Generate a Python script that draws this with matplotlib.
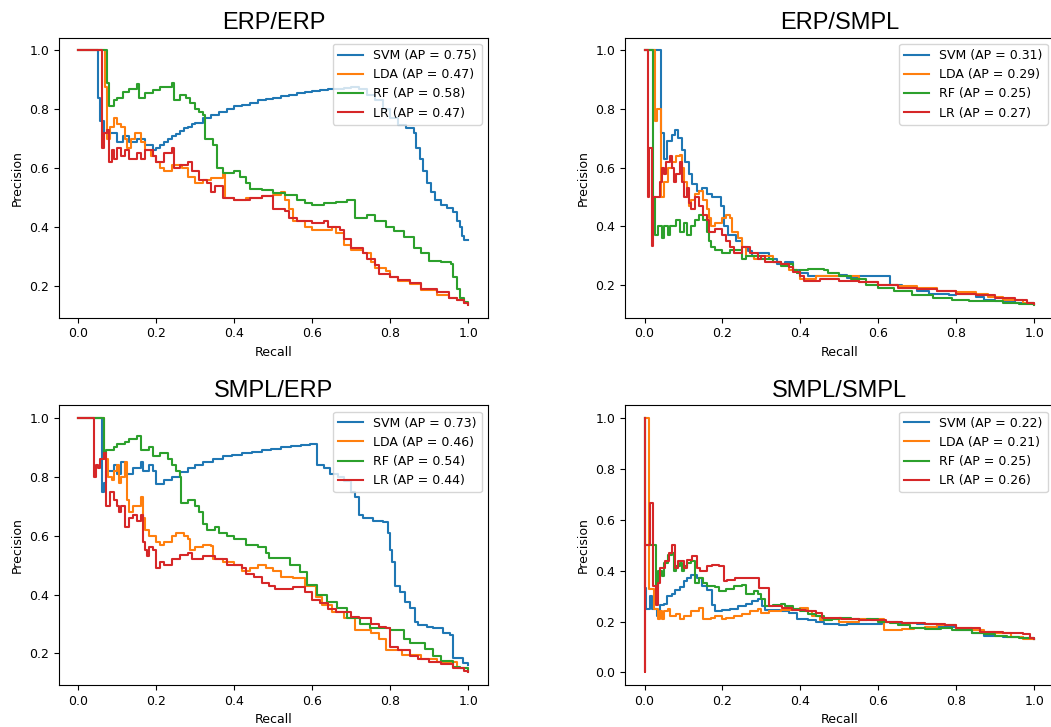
import matplotlib
matplotlib.use("Agg")
import matplotlib.pyplot as plt

# (recall, precision) breakpoints, recall increasing,
# each precision holds until the next recall (steps-post)

# ---- ERP/ERP ----
erp_erp_svm = [(0.0, 1.0), (0.05, 0.84), (0.055, 0.76), (0.065, 0.72), (0.10, 0.69), (0.115, 0.71),
               (0.13, 0.69), (0.15, 0.70), (0.17, 0.68), (0.19, 0.66), (0.20, 0.67), (0.21, 0.68),
               (0.22, 0.69), (0.23, 0.70), (0.24, 0.71), (0.25, 0.715), (0.26, 0.725), (0.27, 0.735),
               (0.28, 0.74), (0.29, 0.75), (0.30, 0.755), (0.32, 0.77), (0.34, 0.78), (0.36, 0.79),
               (0.38, 0.80), (0.40, 0.81), (0.42, 0.815), (0.44, 0.82), (0.46, 0.83), (0.48, 0.835),
               (0.50, 0.84), (0.52, 0.845), (0.54, 0.85), (0.56, 0.855), (0.58, 0.86), (0.60, 0.862),
               (0.62, 0.865), (0.64, 0.868), (0.66, 0.87), (0.68, 0.872), (0.70, 0.875), (0.72, 0.87),
               (0.74, 0.85), (0.76, 0.83), (0.78, 0.80), (0.80, 0.77), (0.82, 0.745), (0.84, 0.735),
               (0.86, 0.72), (0.865, 0.67), (0.875, 0.63), (0.885, 0.59), (0.895, 0.55), (0.905, 0.52),
               (0.915, 0.49), (0.93, 0.475), (0.945, 0.465), (0.96, 0.45), (0.97, 0.42), (0.98, 0.40),
               (0.985, 0.37), (0.99, 0.355), (1.0, 0.354)]
erp_erp_lda = [(0.0, 1.0), (0.068, 0.875), (0.074, 0.70), (0.08, 0.74), (0.09, 0.77), (0.10, 0.75),
               (0.11, 0.74), (0.12, 0.70), (0.125, 0.67), (0.135, 0.70), (0.145, 0.72), (0.16, 0.69),
               (0.17, 0.66), (0.185, 0.64), (0.20, 0.62), (0.21, 0.60), (0.22, 0.59), (0.24, 0.61),
               (0.265, 0.60), (0.28, 0.57), (0.30, 0.55), (0.32, 0.56), (0.34, 0.565), (0.37, 0.58),
               (0.375, 0.50), (0.40, 0.49), (0.43, 0.50), (0.47, 0.505), (0.50, 0.51), (0.52, 0.52),
               (0.53, 0.49), (0.54, 0.46), (0.55, 0.42), (0.58, 0.40), (0.60, 0.39), (0.65, 0.40),
               (0.66, 0.38), (0.68, 0.34), (0.70, 0.32), (0.73, 0.31), (0.75, 0.28), (0.76, 0.26),
               (0.79, 0.25), (0.80, 0.23), (0.82, 0.215), (0.85, 0.205), (0.88, 0.185), (0.92, 0.17),
               (0.95, 0.16), (0.97, 0.15), (0.99, 0.14), (1.0, 0.137)]
erp_erp_rf = [(0.0, 1.0), (0.072, 0.89), (0.078, 0.81), (0.09, 0.83), (0.10, 0.84), (0.115, 0.86),
              (0.13, 0.87), (0.15, 0.885), (0.155, 0.84), (0.17, 0.855), (0.19, 0.865), (0.21, 0.875),
              (0.24, 0.89), (0.245, 0.83), (0.26, 0.85), (0.275, 0.84), (0.285, 0.82), (0.30, 0.80),
              (0.31, 0.79), (0.32, 0.78), (0.325, 0.70), (0.345, 0.68), (0.355, 0.60), (0.37, 0.585),
              (0.40, 0.59), (0.415, 0.57), (0.43, 0.55), (0.44, 0.53), (0.47, 0.525), (0.50, 0.515),
              (0.53, 0.51), (0.56, 0.49), (0.58, 0.48), (0.60, 0.475), (0.63, 0.48), (0.66, 0.485),
              (0.69, 0.49), (0.71, 0.43), (0.74, 0.44), (0.76, 0.42), (0.79, 0.40), (0.81, 0.385),
              (0.835, 0.365), (0.86, 0.33), (0.88, 0.31), (0.90, 0.285), (0.93, 0.28), (0.955, 0.275),
              (0.962, 0.23), (0.97, 0.19), (0.98, 0.16), (0.99, 0.145), (1.0, 0.14)]
erp_erp_lr = [(0.0, 1.0), (0.06, 0.67), (0.065, 0.72), (0.072, 0.73), (0.078, 0.62), (0.085, 0.66),
              (0.09, 0.63), (0.10, 0.67), (0.11, 0.64), (0.12, 0.66), (0.13, 0.63), (0.15, 0.65),
              (0.16, 0.63), (0.17, 0.66), (0.19, 0.64), (0.20, 0.62), (0.22, 0.65), (0.24, 0.67),
              (0.245, 0.60), (0.26, 0.61), (0.28, 0.62), (0.29, 0.59), (0.31, 0.56), (0.33, 0.55),
              (0.34, 0.52), (0.35, 0.54), (0.37, 0.50), (0.40, 0.49), (0.44, 0.50), (0.47, 0.505),
              (0.50, 0.46), (0.53, 0.455), (0.54, 0.43), (0.56, 0.42), (0.60, 0.415), (0.63, 0.42),
              (0.64, 0.40), (0.67, 0.39), (0.68, 0.36), (0.70, 0.33), (0.73, 0.31), (0.74, 0.29),
              (0.76, 0.27), (0.77, 0.24), (0.80, 0.23), (0.82, 0.22), (0.85, 0.21), (0.88, 0.19),
              (0.92, 0.18), (0.95, 0.16), (0.97, 0.15), (0.99, 0.14), (1.0, 0.135)]

# ---- ERP/SMPL ----
erp_smpl_svm = [(0.0, 1.0), (0.043, 0.72), (0.051, 0.63), (0.057, 0.69), (0.070, 0.71), (0.079, 0.73),
                (0.087, 0.70), (0.096, 0.66), (0.103, 0.62), (0.113, 0.58), (0.122, 0.545), (0.135, 0.52),
                (0.147, 0.53), (0.160, 0.51), (0.173, 0.50), (0.195, 0.47), (0.205, 0.40), (0.215, 0.37),
                (0.235, 0.35), (0.25, 0.33), (0.265, 0.315), (0.275, 0.30), (0.29, 0.31), (0.32, 0.29),
                (0.34, 0.27), (0.36, 0.28), (0.38, 0.25), (0.40, 0.24), (0.42, 0.23), (0.50, 0.235),
                (0.52, 0.225), (0.55, 0.23), (0.63, 0.20), (0.66, 0.19), (0.70, 0.18), (0.73, 0.17),
                (0.78, 0.165), (0.80, 0.17), (0.85, 0.16), (0.87, 0.15), (0.90, 0.145), (0.95, 0.14),
                (1.0, 0.135)]
erp_smpl_lda = [(0.0, 1.0), (0.026, 0.76), (0.032, 0.80), (0.043, 0.50), (0.05, 0.55), (0.06, 0.60),
                (0.07, 0.62), (0.08, 0.64), (0.09, 0.645), (0.095, 0.60), (0.10, 0.55), (0.11, 0.50),
                (0.115, 0.47), (0.12, 0.49), (0.13, 0.51), (0.14, 0.52), (0.15, 0.49), (0.16, 0.46),
                (0.165, 0.43), (0.17, 0.40), (0.18, 0.41), (0.20, 0.43), (0.21, 0.44), (0.22, 0.43),
                (0.225, 0.38), (0.24, 0.36), (0.25, 0.33), (0.26, 0.30), (0.28, 0.29), (0.30, 0.30),
                (0.33, 0.28), (0.35, 0.27), (0.37, 0.25), (0.39, 0.24), (0.40, 0.22), (0.44, 0.23),
                (0.50, 0.23), (0.55, 0.21), (0.60, 0.20), (0.65, 0.195), (0.70, 0.19), (0.75, 0.18),
                (0.80, 0.175), (0.85, 0.17), (0.88, 0.16), (0.92, 0.15), (0.97, 0.14), (1.0, 0.135)]
erp_smpl_rf = [(0.0, 1.0), (0.021, 0.5), (0.026, 0.37), (0.035, 0.40), (0.045, 0.36), (0.05, 0.40),
               (0.06, 0.37), (0.065, 0.40), (0.08, 0.42), (0.09, 0.38), (0.10, 0.41), (0.11, 0.37),
               (0.12, 0.40), (0.13, 0.42), (0.14, 0.44), (0.15, 0.42), (0.16, 0.38), (0.165, 0.35),
               (0.17, 0.33), (0.18, 0.32), (0.20, 0.31), (0.22, 0.32), (0.24, 0.32), (0.25, 0.29),
               (0.26, 0.30), (0.30, 0.29), (0.33, 0.28), (0.35, 0.265), (0.37, 0.27), (0.38, 0.25),
               (0.39, 0.24), (0.40, 0.25), (0.42, 0.255), (0.46, 0.25), (0.47, 0.24), (0.50, 0.23),
               (0.53, 0.22), (0.567, 0.20), (0.60, 0.19), (0.64, 0.18), (0.687, 0.165), (0.739, 0.155),
               (0.79, 0.15), (0.833, 0.144), (0.919, 0.139), (0.96, 0.135), (1.0, 0.132)]
erp_smpl_lr = [(0.0, 1.0), (0.010, 0.5), (0.012, 0.667), (0.019, 0.333), (0.022, 0.5), (0.04, 0.55),
               (0.045, 0.60), (0.05, 0.58), (0.055, 0.62), (0.065, 0.64), (0.07, 0.60), (0.075, 0.55),
               (0.08, 0.58), (0.09, 0.62), (0.095, 0.55), (0.10, 0.50), (0.11, 0.53), (0.115, 0.48),
               (0.12, 0.46), (0.13, 0.50), (0.14, 0.47), (0.15, 0.44), (0.16, 0.42), (0.165, 0.38),
               (0.18, 0.39), (0.20, 0.37), (0.21, 0.35), (0.22, 0.33), (0.23, 0.31), (0.25, 0.33),
               (0.27, 0.31), (0.29, 0.29), (0.30, 0.30), (0.31, 0.28), (0.35, 0.27), (0.37, 0.26),
               (0.38, 0.245), (0.40, 0.23), (0.41, 0.215), (0.45, 0.22), (0.50, 0.215), (0.55, 0.21),
               (0.60, 0.20), (0.65, 0.19), (0.70, 0.185), (0.75, 0.18), (0.80, 0.17), (0.85, 0.165),
               (0.90, 0.155), (0.95, 0.15), (0.98, 0.14), (1.0, 0.135)]

# ---- SMPL/ERP ----
smpl_erp_svm = [(0.0, 1.0), (0.061, 0.75), (0.065, 0.78), (0.07, 0.82), (0.09, 0.84), (0.10, 0.81),
                (0.11, 0.85), (0.12, 0.81), (0.14, 0.83), (0.16, 0.85), (0.165, 0.82), (0.18, 0.84),
                (0.19, 0.82), (0.20, 0.775), (0.22, 0.79), (0.24, 0.80), (0.26, 0.815), (0.28, 0.83),
                (0.30, 0.84), (0.32, 0.85), (0.345, 0.86), (0.37, 0.87), (0.395, 0.875), (0.42, 0.88),
                (0.445, 0.885), (0.47, 0.89), (0.495, 0.895), (0.52, 0.90), (0.545, 0.905), (0.57, 0.908),
                (0.595, 0.912), (0.612, 0.84), (0.63, 0.83), (0.645, 0.81), (0.665, 0.80), (0.68, 0.785),
                (0.70, 0.75), (0.71, 0.73), (0.719, 0.67), (0.73, 0.66), (0.755, 0.65), (0.78, 0.645),
                (0.795, 0.61), (0.80, 0.55), (0.804, 0.51), (0.812, 0.43), (0.825, 0.41), (0.838, 0.376),
                (0.85, 0.353), (0.863, 0.308), (0.872, 0.296), (0.893, 0.29), (0.91, 0.285),
                (0.936, 0.268), (0.953, 0.262), (0.962, 0.183), (0.987, 0.166), (1.0, 0.16)]
smpl_erp_lda = [(0.0, 1.0), (0.065, 0.86), (0.075, 0.80), (0.085, 0.79), (0.09, 0.82), (0.10, 0.84),
                (0.105, 0.78), (0.11, 0.80), (0.12, 0.85), (0.125, 0.72), (0.13, 0.68), (0.14, 0.70),
                (0.16, 0.73), (0.165, 0.66), (0.17, 0.62), (0.18, 0.60), (0.20, 0.58), (0.21, 0.57),
                (0.22, 0.58), (0.24, 0.60), (0.25, 0.61), (0.27, 0.60), (0.28, 0.59), (0.285, 0.55),
                (0.30, 0.56), (0.32, 0.57), (0.34, 0.565), (0.345, 0.52), (0.37, 0.51), (0.40, 0.50),
                (0.42, 0.48), (0.44, 0.49), (0.46, 0.50), (0.48, 0.49), (0.50, 0.48), (0.52, 0.46),
                (0.55, 0.455), (0.58, 0.43), (0.61, 0.39), (0.625, 0.365), (0.65, 0.34), (0.68, 0.32),
                (0.71, 0.28), (0.75, 0.27), (0.77, 0.25), (0.79, 0.21), (0.83, 0.195), (0.88, 0.18),
                (0.92, 0.17), (0.97, 0.15), (1.0, 0.14)]
smpl_erp_rf = [(0.0, 1.0), (0.065, 0.88), (0.07, 0.89), (0.09, 0.90), (0.10, 0.91), (0.12, 0.92),
               (0.13, 0.93), (0.15, 0.94), (0.16, 0.89), (0.18, 0.90), (0.19, 0.87), (0.21, 0.88),
               (0.23, 0.86), (0.24, 0.84), (0.25, 0.82), (0.26, 0.80), (0.262, 0.71), (0.28, 0.72),
               (0.30, 0.70), (0.31, 0.68), (0.32, 0.64), (0.33, 0.62), (0.35, 0.63), (0.36, 0.61),
               (0.38, 0.60), (0.40, 0.59), (0.43, 0.57), (0.46, 0.56), (0.48, 0.54), (0.49, 0.523),
               (0.543, 0.50), (0.569, 0.478), (0.586, 0.433), (0.612, 0.40), (0.637, 0.376),
               (0.663, 0.353), (0.689, 0.32), (0.722, 0.30), (0.748, 0.285), (0.80, 0.28),
               (0.834, 0.25), (0.851, 0.234), (0.89, 0.215), (0.91, 0.19), (0.93, 0.175),
               (0.96, 0.155), (0.98, 0.15), (1.0, 0.14)]
smpl_erp_lr = [(0.0, 1.0), (0.04, 0.80), (0.045, 0.84), (0.05, 0.83), (0.055, 0.86), (0.065, 0.88),
               (0.07, 0.70), (0.08, 0.75), (0.09, 0.72), (0.10, 0.70), (0.105, 0.68), (0.11, 0.70),
               (0.12, 0.63), (0.13, 0.66), (0.14, 0.67), (0.15, 0.65), (0.16, 0.67), (0.165, 0.58),
               (0.17, 0.55), (0.175, 0.53), (0.18, 0.56), (0.19, 0.55), (0.20, 0.49), (0.21, 0.51),
               (0.22, 0.50), (0.24, 0.52), (0.26, 0.535), (0.28, 0.54), (0.29, 0.52), (0.32, 0.53),
               (0.35, 0.52), (0.38, 0.50), (0.42, 0.49), (0.43, 0.47), (0.45, 0.46), (0.47, 0.44),
               (0.49, 0.43), (0.505, 0.42), (0.55, 0.425), (0.58, 0.41), (0.60, 0.38), (0.62, 0.37),
               (0.64, 0.35), (0.66, 0.34), (0.70, 0.325), (0.72, 0.32), (0.75, 0.30), (0.77, 0.29),
               (0.79, 0.285), (0.80, 0.22), (0.82, 0.21), (0.85, 0.19), (0.87, 0.18), (0.90, 0.17),
               (0.93, 0.165), (0.96, 0.15), (0.99, 0.14), (1.0, 0.135)]

# ---- SMPL/SMPL ----
smpl_smpl_svm = [(0.0, 1.0), (0.0, 0.333), (0.005, 0.25), (0.013, 0.30), (0.02, 0.25), (0.032, 0.22),
                 (0.040, 0.266), (0.05, 0.27), (0.057, 0.30), (0.07, 0.31), (0.079, 0.325), (0.09, 0.335),
                 (0.10, 0.358), (0.11, 0.37), (0.12, 0.385), (0.135, 0.37), (0.147, 0.34), (0.16, 0.325),
                 (0.173, 0.266), (0.18, 0.24), (0.20, 0.245), (0.22, 0.25), (0.24, 0.26), (0.26, 0.27),
                 (0.276, 0.28), (0.29, 0.29), (0.302, 0.26), (0.31, 0.245), (0.35, 0.24), (0.37, 0.235),
                 (0.39, 0.21), (0.42, 0.205), (0.44, 0.20), (0.46, 0.19), (0.50, 0.185), (0.52, 0.19),
                 (0.61, 0.20), (0.65, 0.195), (0.70, 0.19), (0.75, 0.18), (0.80, 0.165), (0.84, 0.155),
                 (0.87, 0.145), (0.92, 0.14), (0.97, 0.135), (1.0, 0.13)]
smpl_smpl_lda = [(0.0, 1.0), (0.012, 0.33), (0.025, 0.25), (0.035, 0.21), (0.04, 0.24), (0.045, 0.21),
                 (0.05, 0.24), (0.06, 0.25), (0.065, 0.22), (0.08, 0.23), (0.09, 0.21), (0.10, 0.22),
                 (0.12, 0.24), (0.14, 0.255), (0.15, 0.21), (0.17, 0.215), (0.18, 0.22), (0.20, 0.21),
                 (0.21, 0.215), (0.23, 0.22), (0.25, 0.23), (0.27, 0.24), (0.29, 0.25), (0.30, 0.235),
                 (0.32, 0.24), (0.35, 0.245), (0.38, 0.25), (0.40, 0.255), (0.42, 0.24), (0.43, 0.22),
                 (0.45, 0.205), (0.48, 0.21), (0.50, 0.20), (0.55, 0.21), (0.58, 0.205), (0.60, 0.21),
                 (0.615, 0.165), (0.66, 0.17), (0.69, 0.175), (0.72, 0.18), (0.75, 0.185), (0.80, 0.175),
                 (0.84, 0.165), (0.87, 0.16), (0.90, 0.155), (0.94, 0.14), (0.97, 0.13), (1.0, 0.13)]
smpl_smpl_rf = [(0.0, 1.0), (0.0, 0.5), (0.03, 0.333), (0.035, 0.40), (0.045, 0.38), (0.05, 0.43),
                (0.06, 0.46), (0.07, 0.47), (0.075, 0.40), (0.08, 0.42), (0.09, 0.43), (0.095, 0.40),
                (0.10, 0.42), (0.11, 0.43), (0.12, 0.44), (0.13, 0.35), (0.14, 0.37), (0.15, 0.35),
                (0.16, 0.34), (0.18, 0.335), (0.19, 0.32), (0.21, 0.33), (0.23, 0.34), (0.25, 0.345),
                (0.26, 0.31), (0.28, 0.32), (0.29, 0.31), (0.30, 0.29), (0.31, 0.26), (0.33, 0.265),
                (0.35, 0.27), (0.36, 0.26), (0.38, 0.25), (0.40, 0.24), (0.42, 0.23), (0.44, 0.22),
                (0.46, 0.205), (0.48, 0.21), (0.50, 0.215), (0.53, 0.21), (0.55, 0.205), (0.57, 0.21),
                (0.60, 0.20), (0.63, 0.195), (0.65, 0.185), (0.68, 0.175), (0.72, 0.17), (0.76, 0.175),
                (0.79, 0.165), (0.84, 0.155), (0.87, 0.15), (0.90, 0.145), (0.93, 0.14), (0.96, 0.135),
                (1.0, 0.13)]
smpl_smpl_lr = [(0.0, 1.0), (0.0, 0.0), (0.0, 0.5), (0.0146, 0.667), (0.023, 0.338), (0.03, 0.266),
                (0.034, 0.35), (0.040, 0.41), (0.053, 0.437), (0.062, 0.47), (0.070, 0.50), (0.079, 0.41),
                (0.086, 0.437), (0.100, 0.41), (0.109, 0.443), (0.122, 0.456), (0.135, 0.41),
                (0.143, 0.397), (0.160, 0.417), (0.173, 0.424), (0.19, 0.417), (0.203, 0.358),
                (0.212, 0.364), (0.233, 0.371), (0.26, 0.37), (0.293, 0.332), (0.319, 0.26),
                (0.353, 0.253), (0.379, 0.245), (0.413, 0.24), (0.439, 0.235), (0.456, 0.214),
                (0.503, 0.21), (0.55, 0.205), (0.62, 0.20), (0.66, 0.195), (0.72, 0.19), (0.77, 0.185),
                (0.80, 0.175), (0.86, 0.16), (0.92, 0.155), (0.97, 0.15), (0.99, 0.135), (1.0, 0.133)]

titles = ["ERP/ERP", "ERP/SMPL", "SMPL/ERP", "SMPL/SMPL"]
models = ["SVM", "LDA", "RF", "LR"]
ap_scores = [[0.75, 0.47, 0.58, 0.47],
             [0.31, 0.29, 0.25, 0.27],
             [0.73, 0.46, 0.54, 0.44],
             [0.22, 0.21, 0.25, 0.26]]
curves = [[erp_erp_svm, erp_erp_lda, erp_erp_rf, erp_erp_lr],
          [erp_smpl_svm, erp_smpl_lda, erp_smpl_rf, erp_smpl_lr],
          [smpl_erp_svm, smpl_erp_lda, smpl_erp_rf, smpl_erp_lr],
          [smpl_smpl_svm, smpl_smpl_lda, smpl_smpl_rf, smpl_smpl_lr]]

fig = plt.figure(figsize=(10.51, 7.27), dpi=100)
positions = [[0.0561, 0.5631, 0.408, 0.385],
             [0.5947, 0.5631, 0.408, 0.385],
             [0.0561, 0.0575, 0.408, 0.385],
             [0.5947, 0.0575, 0.408, 0.385]]

for i in range(4):
    ax = fig.add_axes(positions[i])
    for j in range(4):
        r = [pt[0] for pt in curves[i][j]]
        p = [pt[1] for pt in curves[i][j]]
        ax.plot(r, p, drawstyle="steps-post", color="C%d" % j,
                label="%s (AP = %.2f)" % (models[j], ap_scores[i][j]))
    ax.set_title(titles[i], fontsize=17, family="Liberation Sans")
    ax.set_xlabel("Recall", fontsize=9)
    ax.set_ylabel("Precision", fontsize=9)
    ax.tick_params(labelsize=9)
    ax.legend(loc="upper right", fontsize=9)

fig.savefig("out.png", dpi=100)
